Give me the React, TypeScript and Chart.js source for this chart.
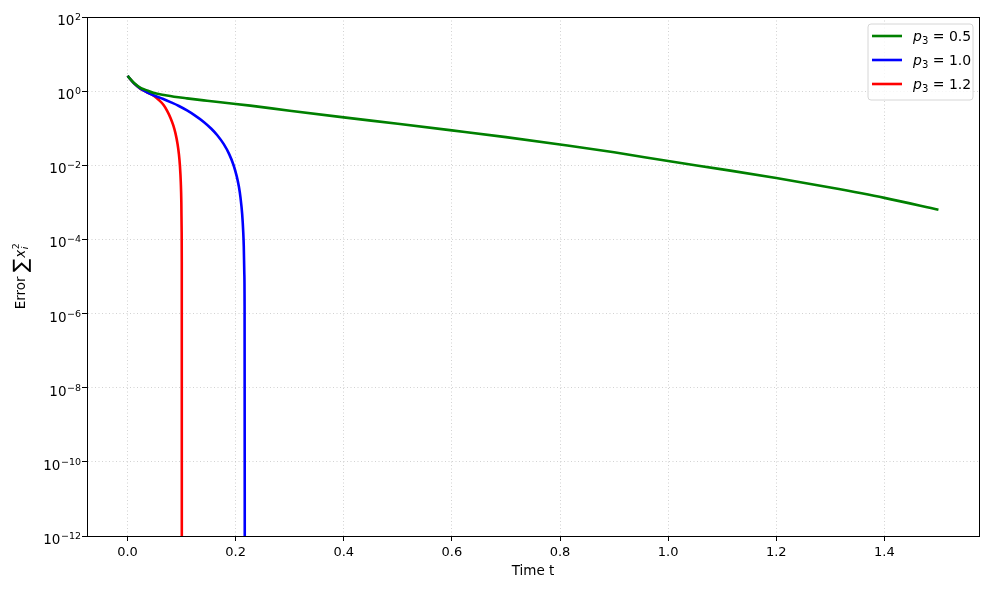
import React, { useEffect, useRef } from "react";
import { Chart, registerables } from "chart.js";

Chart.register(...registerables);

// ---- data ----
const greenTimes = [0, 0.012, 0.024, 0.036, 0.049, 0.07, 0.086, 0.11, 0.147, 0.2, 0.227, 0.3, 0.4, 0.5, 0.6, 0.7, 0.8, 0.9, 1.0, 1.1, 1.2, 1.3, 1.4, 1.5];
const greenErrors = [2.57, 1.66, 1.23, 1.05, 0.891, 0.776, 0.708, 0.638, 0.552, 0.452, 0.406, 0.296, 0.196, 0.132, 0.0875, 0.0575, 0.0363, 0.0224, 0.013, 0.00776, 0.00454, 0.00251, 0.00132, 0.000631];

const blueTimes = [0, 0.012, 0.024, 0.036, 0.049, 0.065, 0.0795, 0.095, 0.11, 0.125, 0.141, 0.155, 0.166, 0.178, 0.188, 0.196, 0.202, 0.206, 0.209, 0.212, 0.214, 0.215, 0.216, 0.2165, 0.2169];
const blueErrors = [2.57, 1.62, 1.17, 0.933, 0.766, 0.624, 0.506, 0.398, 0.302, 0.219, 0.148, 0.0968, 0.0646, 0.0372, 0.02, 0.0102, 0.00501, 0.00263, 0.00132, 0.00049, 0.000158, 6.46e-5, 1.2e-5, 1.58e-6, 1e-14];

const redTimes = [0, 0.012, 0.024, 0.036, 0.049, 0.058, 0.067, 0.0735, 0.0795, 0.0845, 0.0888, 0.0925, 0.095, 0.0968, 0.0985, 0.0995, 0.1001, 0.1003, 0.1004];
const redErrors = [2.57, 1.62, 1.15, 0.933, 0.741, 0.575, 0.417, 0.29, 0.19, 0.121, 0.0713, 0.0375, 0.02, 0.0101, 0.00347, 0.001, 0.000158, 2.5e-5, 1e-14];

const seriesLabels = ["0.5", "1.0", "1.2"];
const seriesColors = ["#008000", "#0000ff", "#ff0000"];

const xTicks = [0, 0.2, 0.4, 0.6, 0.8, 1.0, 1.2, 1.4];
const yExponents = [-12, -10, -8, -6, -4, -2, 0, 2];

const FONT = "'DejaVu Sans', sans-serif";

const toPoints = (ts: number[], vs: number[]) => ts.map((t, i) => ({ x: t, y: vs[i] }));

const framePlugin = {
  id: "frame",
  afterDraw(chart: any) {
    const { ctx, chartArea } = chart;
    const { left, right, top, bottom } = chartArea;
    ctx.save();
    ctx.strokeStyle = "#000";
    ctx.lineWidth = 1;
    ctx.strokeRect(Math.round(left) + 0.5, Math.round(top) + 0.5, Math.round(right - left), Math.round(bottom - top));

    // y tick labels: 10^e with raised exponent
    const ys = chart.scales.y;
    ctx.fillStyle = "#000";
    ctx.textBaseline = "alphabetic";
    ctx.textAlign = "left";
    yExponents.forEach((e) => {
      const py = ys.getPixelForValue(Math.pow(10, e));
      const expText = e < 0 ? "\u2212" + Math.abs(e) : String(e);
      ctx.font = `9.5px ${FONT}`;
      const ew = ctx.measureText(expText).width;
      ctx.font = `13.5px ${FONT}`;
      const bw = ctx.measureText("10").width;
      const xr = left - 6.5;
      const x0 = xr - ew - bw;
      ctx.fillText("10", x0, py + 8);
      ctx.font = `9.5px ${FONT}`;
      ctx.fillText(expText, x0 + bw + 0.5, py + 3);
    });

    // y axis title: Error ∑ x_i^2
    ctx.save();
    ctx.translate(20, (top + bottom) / 2);
    ctx.rotate(-Math.PI / 2);
    const parts: { t: string; f: string; dy: number }[] = [
      { t: "Error ", f: `13.5px ${FONT}`, dy: 0 },
      { t: "\u2211", f: `20px ${FONT}`, dy: 2 },
      { t: "x", f: `italic 13.5px ${FONT}`, dy: 0 },
    ];
    let total = 0;
    parts.forEach((p) => {
      ctx.font = p.f;
      total += ctx.measureText(p.t).width;
    });
    ctx.font = `9.5px ${FONT}`;
    const scriptW = ctx.measureText("2").width;
    total += scriptW + 1;
    let cx = -total / 2;
    const base = 5;
    parts.forEach((p) => {
      ctx.font = p.f;
      ctx.fillText(p.t, cx, base + p.dy);
      cx += ctx.measureText(p.t).width + (p.t === "\u2211" ? 1 : 0);
    });
    ctx.font = `italic 9.5px ${FONT}`;
    ctx.fillText("i", cx + 0.5, base + 3);
    ctx.font = `9.5px ${FONT}`;
    ctx.fillText("2", cx + 0.5, base - 6);
    ctx.restore();

    // legend (matplotlib style, upper right)
    const bw = 105, bh = 76;
    const bx = right - 6 - bw, by = top + 7;
    const r = 3;
    ctx.beginPath();
    ctx.moveTo(bx + r, by);
    ctx.lineTo(bx + bw - r, by);
    ctx.quadraticCurveTo(bx + bw, by, bx + bw, by + r);
    ctx.lineTo(bx + bw, by + bh - r);
    ctx.quadraticCurveTo(bx + bw, by + bh, bx + bw - r, by + bh);
    ctx.lineTo(bx + r, by + bh);
    ctx.quadraticCurveTo(bx, by + bh, bx, by + bh - r);
    ctx.lineTo(bx, by + r);
    ctx.quadraticCurveTo(bx, by, bx + r, by);
    ctx.closePath();
    ctx.fillStyle = "rgba(255,255,255,0.8)";
    ctx.fill();
    ctx.strokeStyle = "#d6d6d6";
    ctx.lineWidth = 1;
    ctx.stroke();
    chart.data.datasets.forEach((ds: any, i: number) => {
      const y = by + 12 + i * 24;
      ctx.strokeStyle = ds.borderColor;
      ctx.lineWidth = 2.6;
      ctx.beginPath();
      ctx.moveTo(bx + 4, y);
      ctx.lineTo(bx + 34, y);
      ctx.stroke();
      ctx.fillStyle = "#000";
      ctx.textBaseline = "alphabetic";
      ctx.textAlign = "left";
      let x = bx + 45;
      const b = y + 5;
      ctx.font = `italic 14px ${FONT}`;
      ctx.fillText("p", x, b);
      x += ctx.measureText("p").width;
      ctx.font = `10px ${FONT}`;
      ctx.fillText("3", x, b + 3);
      x += ctx.measureText("3").width;
      ctx.font = `14px ${FONT}`;
      ctx.fillText(" = " + seriesLabels[i], x, b);
    });
    ctx.restore();
  },
};

export default function App() {
  const ref = useRef<HTMLCanvasElement>(null);
  useEffect(() => {
    if (!ref.current) return;
    const gridCommon = {
      color: "rgba(180,180,180,0.75)",
      lineWidth: 0.8,
      tickColor: "#000",
      tickLength: 5,
      tickWidth: 1,
      tickBorderDash: [],
    };
    const chart = new Chart(ref.current, {
      type: "line",
      data: {
        datasets: [
          { label: "p3 = 0.5", data: toPoints(greenTimes, greenErrors), borderColor: seriesColors[0] },
          { label: "p3 = 1.0", data: toPoints(blueTimes, blueErrors), borderColor: seriesColors[1] },
          { label: "p3 = 1.2", data: toPoints(redTimes, redErrors), borderColor: seriesColors[2] },
        ].map((d) => ({
          ...d,
          borderWidth: 2.6,
          pointRadius: 0,
          fill: false,
          cubicInterpolationMode: "monotone" as const,
        })),
      },
      options: {
        animation: false,
        responsive: false,
        devicePixelRatio: 1,
        layout: { padding: { top: 17, right: 10, left: 0, bottom: 0 } },
        plugins: { legend: { display: false }, tooltip: { enabled: false } },
        scales: {
          x: {
            type: "linear",
            min: -0.075,
            max: 1.575,
            afterBuildTicks: (s: any) => {
              s.ticks = xTicks.map((v) => ({ value: v }));
            },
            afterFit: (s: any) => {
              s.height = 53;
            },
            ticks: {
              padding: 4,
              color: "#000",
              font: { family: FONT, size: 13 },
              callback: (v: any) => Number(v).toFixed(1),
            },
            grid: gridCommon,
            border: { color: "#000", width: 1, dash: [1, 2.5] },
            title: {
              display: true,
              text: "Time t",
              color: "#000",
              font: { family: FONT, size: 13.5 },
              padding: { top: 0, bottom: 9 },
            },
          },
          y: {
            type: "logarithmic",
            min: 1e-12,
            max: 100,
            afterBuildTicks: (s: any) => {
              s.ticks = yExponents.map((e) => ({ value: Math.pow(10, e) }));
            },
            afterFit: (s: any) => {
              s.width = 87;
            },
            ticks: {
              display: false,
            },
            grid: gridCommon,
            border: { color: "#000", width: 1, dash: [1, 2.5] },
            title: { display: false },
          },
        },
      },
      plugins: [framePlugin],
    } as any);
    return () => chart.destroy();
  }, []);
  return (
    <div style={{ position: "absolute", left: 0, top: 0, width: 989, height: 589, background: "#fff" }}>
      <canvas ref={ref} width={989} height={589} style={{ width: 989, height: 589, display: "block" }} />
    </div>
  );
}
